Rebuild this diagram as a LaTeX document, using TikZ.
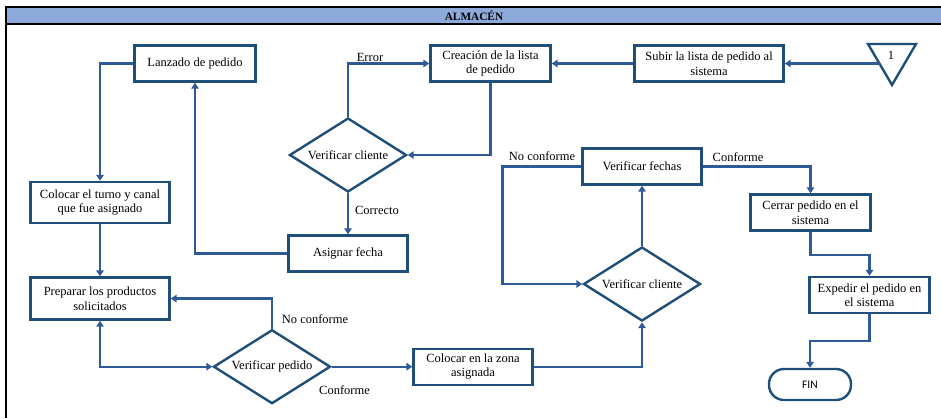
\documentclass[tikz,border=0pt]{standalone}
\usepackage{fontspec}
\setmainfont{Liberation Serif}
\newfontfamily\finfont{Carlito}
\usetikzlibrary{arrows.meta,shapes.geometric}
\definecolor{boxblue}{HTML}{1F4E79}
\definecolor{lineblue}{HTML}{2F5A9A}
\definecolor{headfill}{HTML}{8EAADB}
\begin{document}
\begin{tikzpicture}[x=1pt,y=-1pt,
  every node/.style={font=\fontsize{12.5}{14.5}\selectfont},
  procbox/.style={draw=boxblue,line width=2.4pt,fill=white,align=center,
    inner sep=1pt,minimum height=36pt},
  decision/.style={diamond,aspect=1.6,draw=boxblue,line width=2.4pt,fill=white,
    inner sep=0pt,minimum width=117pt,minimum height=74pt},
  terminal/.style={draw=boxblue,line width=2.4pt,rounded corners=15pt,
    minimum width=82pt,minimum height=31pt,font=\finfont\fontsize{11.5}{13}\selectfont},
  flow/.style={draw=lineblue,line width=2.4pt,-{Triangle[length=6pt,width=7.5pt]}},
  flowboth/.style={draw=lineblue,line width=2.4pt,
    {Triangle[length=6pt,width=7.5pt]}-{Triangle[length=6pt,width=7.5pt]}},
  tag/.style={inner sep=0pt}]
\useasboundingbox (0,0) rectangle (941,418);

% frame and title band
\fill[headfill] (6,7) rectangle (941,24);
\draw[black,line width=2pt] (6,7) -- (941,7);
\draw[black,line width=1.6pt] (6,24) -- (941,24);
\draw[black,line width=2pt] (6,6) -- (6,418);
\node[font=\bfseries\fontsize{11.3}{13}\selectfont] (title) at (474,15.5) {ALMACÉN};

% off-page connector
\draw[boxblue,line width=2.4pt,line join=miter] (868,44) -- (916,44) -- (892,85) -- cycle;
\node (one) at (891,55) {1};
\coordinate (tri) at (880,63.5);

% process steps
\node[procbox,minimum width=121pt] (lanz) at (195,63.5) {Lanzado de pedido};
\node[procbox,minimum width=120pt] (crea) at (490.5,63.5) {Creación de la lista\\de pedido};
\node[procbox,minimum width=149pt] (subir) at (709,63.5) {Subir la lista de pedido al\\sistema};
\node[decision] (vc1) at (348,155) {Verificar cliente};
\node[procbox,minimum width=119pt] (asig) at (348,253.5) {Asignar fecha};
\node[procbox,minimum width=139pt,minimum height=41pt] (colt) at (100,202.5) {Colocar el turno y canal\\que fue asignado};
\node[procbox,minimum width=139pt,minimum height=42pt] (prep) at (100,298.5) {Preparar los productos\\solicitados};
\node[decision] (vp) at (272,366.7) {Verificar pedido};
\node[procbox,minimum width=119pt] (colz) at (473,366.7) {Colocar en la zona\\asignada};
\node[decision] (vc2) at (642,284) {Verificar cliente};
\node[procbox,minimum width=119pt] (vf) at (642,166.5) {Verificar fechas};
\node[procbox,minimum width=120pt] (cerr) at (810.5,212.5) {Cerrar pedido en el\\sistema};
\node[procbox,minimum width=120pt] (exp) at (869.5,295) {Expedir el pedido en\\el sistema};
\node[terminal] (fin) at (810,384.5) {FIN};

% connectors
\draw[flow] (tri) -- (subir.east);
\draw[flow] (subir.west) -- (crea.east);
\draw[flow] (crea.south) |- (vc1.east);
\draw[flow] (vc1.north) |- (crea.west);
\draw[flow] (vc1.south) -- (asig.north);
\draw[flow] (asig.west) -| (lanz.south);
\draw[flow] (lanz.west) -| (colt.north);
\draw[flow] (colt.south) -- (prep.north);
\draw[flowboth] (prep.south) |- (vp.west);
\draw[flow] (vp.north) |- (prep.east);
\draw[flow] (vp.east) -- (colz.west);
\draw[flow] (colz.east) -| (vc2.south);
\draw[flow] (vc2.north) -- (vf.south);
\draw[flow] (vf.west) -- ++(-79,0) |- (vc2.west);
\draw[flow] (vf.east) -| (cerr.north);
\draw[flow] (cerr.south) -- ++(0,23) -| (exp.north);
\draw[flow] (exp.south) -- ++(0,26.5) -| (fin.north);

% branch labels
\node[tag] (lerr) at (370,57) {Error};
\node[tag] (lcor) at (377,210.5) {Correcto};
\node[tag] (lnc1) at (315,319.5) {No conforme};
\node[tag] (lcf1) at (344.5,390) {Conforme};
\node[tag] (lnc2) at (542,156) {No conforme};
\node[tag] (lcf2) at (738,157.5) {Conforme};
\end{tikzpicture}
\end{document}
